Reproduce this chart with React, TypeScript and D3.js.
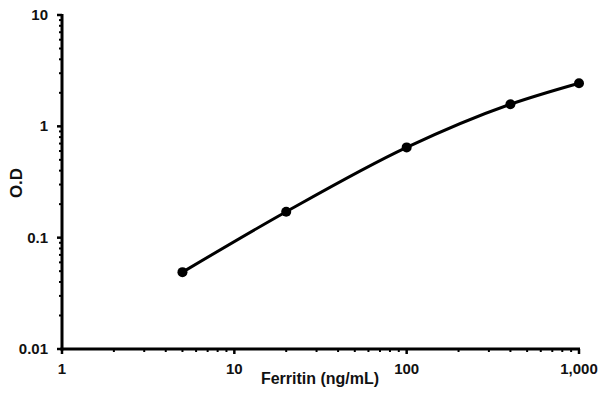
import * as d3 from 'd3';
import React, { useRef, useEffect } from 'react';

// standard curve: Ferritin concentration vs O.D
const conc = [5, 20, 100, 400, 1000];
const od = [0.049, 0.171, 0.647, 1.58, 2.44];
const xTicks = [1, 10, 100, 1000];
const xTickLabels = ['1', '10', '100', '1,000'];
const yTicks = [0.01, 0.1, 1, 10];
const yTickLabels = ['0.01', '0.1', '1', '10'];

function Chart({ width, height }: { width: number; height: number }) {
  const ref = useRef<SVGSVGElement>(null);

  useEffect(() => {
    draw();
  }, []);

  const draw = () => {
    const svg = d3.select(ref.current);
    svg.selectAll('*').remove();

    const font = 'Arial, "Liberation Sans", sans-serif';

    const x = d3.scaleLog().domain([1, 1000]).range([62, 579]);
    const y = d3.scaleLog().domain([0.01, 10]).range([349, 15]);

    // minor ticks
    const minorX: number[] = [];
    const minorY: number[] = [];
    for (let dec = 1; dec < 1000; dec *= 10) {
      for (let k = 2; k <= 9; k++) minorX.push(dec * k);
    }
    for (let dec = 0.01; dec < 9; dec *= 10) {
      for (let k = 2; k <= 9; k++) minorY.push(dec * k);
    }

    const g = svg.append('g');

    g.selectAll('.mx')
      .data(minorX)
      .enter()
      .append('line')
      .attr('x1', (d) => x(d))
      .attr('x2', (d) => x(d))
      .attr('y1', 349)
      .attr('y2', 352)
      .attr('stroke', '#000')
      .attr('stroke-width', 2);

    g.selectAll('.my')
      .data(minorY)
      .enter()
      .append('line')
      .attr('x1', 59)
      .attr('x2', 62)
      .attr('y1', (d) => y(d))
      .attr('y2', (d) => y(d))
      .attr('stroke', '#000')
      .attr('stroke-width', 2);

    // major ticks
    g.selectAll('.Mx')
      .data(xTicks)
      .enter()
      .append('line')
      .attr('x1', (d) => x(d))
      .attr('x2', (d) => x(d))
      .attr('y1', 349)
      .attr('y2', 354)
      .attr('stroke', '#000')
      .attr('stroke-width', 2.5);

    g.selectAll('.My')
      .data(yTicks)
      .enter()
      .append('line')
      .attr('x1', 57)
      .attr('x2', 62)
      .attr('y1', (d) => y(d))
      .attr('y2', (d) => y(d))
      .attr('stroke', '#000')
      .attr('stroke-width', 2.5);

    // axis lines
    g.append('line')
      .attr('x1', x(1))
      .attr('x2', x(1))
      .attr('y1', y(10) - 1)
      .attr('y2', y(0.01) + 1.5)
      .attr('stroke', '#000')
      .attr('stroke-width', 3);
    g.append('line')
      .attr('x1', x(1) - 1.5)
      .attr('x2', x(1000) + 1)
      .attr('y1', y(0.01))
      .attr('y2', y(0.01))
      .attr('stroke', '#000')
      .attr('stroke-width', 3);

    // tick labels
    g.selectAll('.xl')
      .data(xTicks)
      .enter()
      .append('text')
      .attr('x', (d) => x(d))
      .attr('y', 374)
      .attr('text-anchor', 'middle')
      .style('font-family', font)
      .style('font-size', '15px')
      .style('font-weight', 'bold')
      .style('fill', '#111')
      .text((d, i) => xTickLabels[i]);

    g.selectAll('.yl')
      .data(yTicks)
      .enter()
      .append('text')
      .attr('x', 48)
      .attr('y', (d) => y(d) + 5)
      .attr('text-anchor', 'end')
      .style('font-family', font)
      .style('font-size', '15px')
      .style('font-weight', 'bold')
      .style('fill', '#111')
      .text((d, i) => yTickLabels[i]);

    // axis titles
    g.append('text')
      .attr('x', 320)
      .attr('y', 384)
      .attr('text-anchor', 'middle')
      .style('font-family', font)
      .style('font-size', '16px')
      .style('font-weight', 'bold')
      .style('fill', '#111')
      .text('Ferritin (ng/mL)');

    g.append('text')
      .attr('transform', 'translate(22,183) rotate(-90)')
      .attr('text-anchor', 'middle')
      .style('font-family', font)
      .style('font-size', '17px')
      .style('font-weight', 'bold')
      .style('fill', '#111')
      .text('O.D');

    // curve
    const pts = conc.map((c, i) => [c, od[i]] as [number, number]);
    const line = d3
      .line<[number, number]>()
      .x((d) => x(d[0]))
      .y((d) => y(d[1]))
      .curve(d3.curveMonotoneX);

    g.append('path')
      .datum(pts)
      .attr('d', line)
      .attr('fill', 'none')
      .attr('stroke', '#000')
      .attr('stroke-width', 3);

    g.selectAll('.pt')
      .data(pts)
      .enter()
      .append('circle')
      .attr('cx', (d) => x(d[0]))
      .attr('cy', (d) => y(d[1]))
      .attr('r', 5)
      .attr('fill', '#000');
  };

  return <svg ref={ref} width={width} height={height} style={{ display: 'block' }} />;
}

export default function App() {
  return (
    <div style={{ position: 'absolute', left: 0, top: 0 }}>
      <Chart width={601} height={408} />
    </div>
  );
}
